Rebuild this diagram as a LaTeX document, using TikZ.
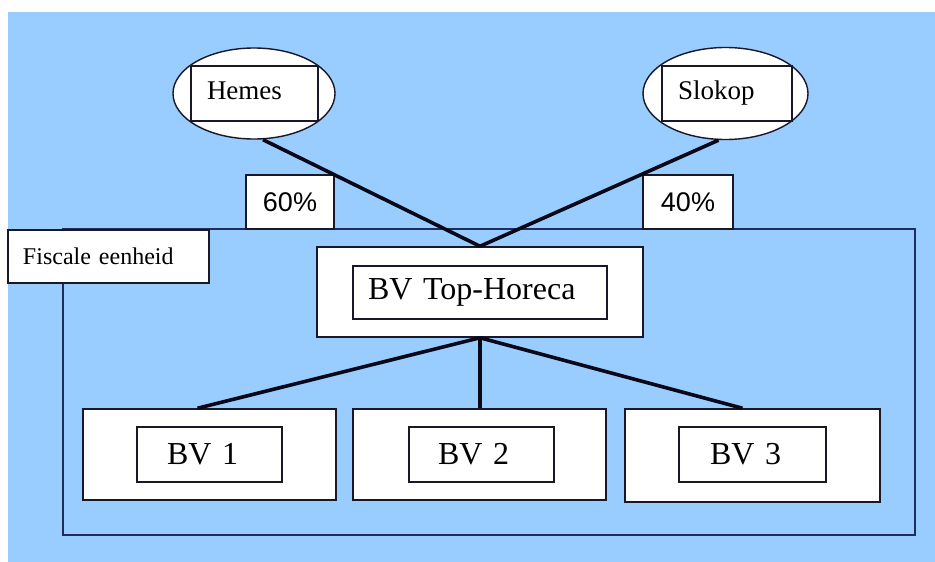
\documentclass[tikz,border=0pt]{standalone}
\usepackage{fontspec}
\setmainfont{Liberation Serif}
\newfontfamily\pctfont{Liberation Sans}
\usetikzlibrary{shapes.geometric}

\definecolor{skyback}{RGB}{153,204,255}
\definecolor{frameblue}{RGB}{32,44,92}
\definecolor{edgeink}{RGB}{24,24,40}
\definecolor{linkink}{RGB}{8,8,24}

\tikzset{
  groupframe/.style={draw=frameblue, line width=1.6pt},
  plainbox/.style={draw=edgeink, line width=1.5pt, fill=white, inner ysep=0pt},
  textbox/.style={plainbox, align=left},
  ownerbubble/.style={ellipse, draw=edgeink, line width=1.4pt, fill=white, inner sep=0pt},
  bigserif/.style={font=\fontsize{32}{36}\selectfont},
  midserif/.style={font=\fontsize{27}{31}\selectfont},
  smallserif/.style={font=\fontsize{24}{28}\selectfont},
  pcttext/.style={font=\pctfont\fontsize{27}{31}\selectfont},
  link/.style={draw=linkink, line width=3.6pt}
}

\begin{document}
\begin{tikzpicture}[x=1pt, y=-1pt]
  \useasboundingbox (0,0) rectangle (935,562);
  \fill[white] (0,0) rectangle (935,562);
  \fill[skyback] (8,12) rectangle (935,562);

  % fiscal unity frame with its label
  \draw[groupframe] (63,229) rectangle (915,535);
  \node[textbox, smallserif, text width=171pt, inner xsep=15pt, minimum height=53pt]
    (fe) at (108.5,256.5) {Fiscale eenheid};

  % shareholding percentages
  \node[plainbox, pcttext, minimum width=88pt, minimum height=54pt, inner xsep=0pt]
    (p60) at (290,202) {60\%};
  \node[plainbox, pcttext, minimum width=90pt, minimum height=54pt, inner xsep=0pt]
    (p40) at (688,202) {40\%};

  % shareholders
  \node[ownerbubble, minimum width=162pt, minimum height=91pt] (hemesE) at (254,93.5) {};
  \node[textbox, midserif, text width=95pt, inner xsep=16pt, minimum height=55pt]
    (hemes) at (254.5,93.5) {\strut Hemes};
  \node[ownerbubble, minimum width=165pt, minimum height=92pt] (slokopE) at (725.5,93.5) {};
  \node[textbox, midserif, text width=98pt, inner xsep=16pt, minimum height=55pt]
    (slokop) at (727,93.5) {\strut Slokop};

  % holding company
  \node[plainbox, minimum width=326pt, minimum height=90pt] (topO) at (480,292) {};
  \node[textbox, bigserif, text width=224pt, inner xsep=15pt, minimum height=53pt]
    (top) at (480,292.5) {BV Top-Horeca};

  % subsidiaries
  \node[plainbox, minimum width=253pt, minimum height=91pt] (bv1O) at (209.5,454.5) {};
  \node[textbox, bigserif, text width=85pt, inner xsep=30pt, minimum height=55pt]
    (bv1) at (209.5,454.5) {BV 1};
  \node[plainbox, minimum width=253pt, minimum height=91pt] (bv2O) at (479.5,454.5) {};
  \node[textbox, bigserif, text width=87pt, inner xsep=29pt, minimum height=55pt]
    (bv2) at (481.5,454.5) {BV 2};
  \node[plainbox, minimum width=255pt, minimum height=93pt] (bv3O) at (752.5,455.5) {};
  \node[textbox, bigserif, text width=85pt, inner xsep=31pt, minimum height=55pt]
    (bv3) at (752.5,454.5) {BV 3};

  % ownership lines
  \draw[link] ([xshift=9pt]hemesE.south) -- (topO.north);
  \draw[link] ([xshift=-7pt]slokopE.south) -- (topO.north);
  \draw[link] (topO.south) -- ([xshift=-12pt]bv1O.north);
  \draw[link] (topO.south) -- ([xshift=0.5pt]bv2O.north);
  \draw[link] (topO.south) -- ([xshift=-10pt]bv3O.north);
\end{tikzpicture}
\end{document}
